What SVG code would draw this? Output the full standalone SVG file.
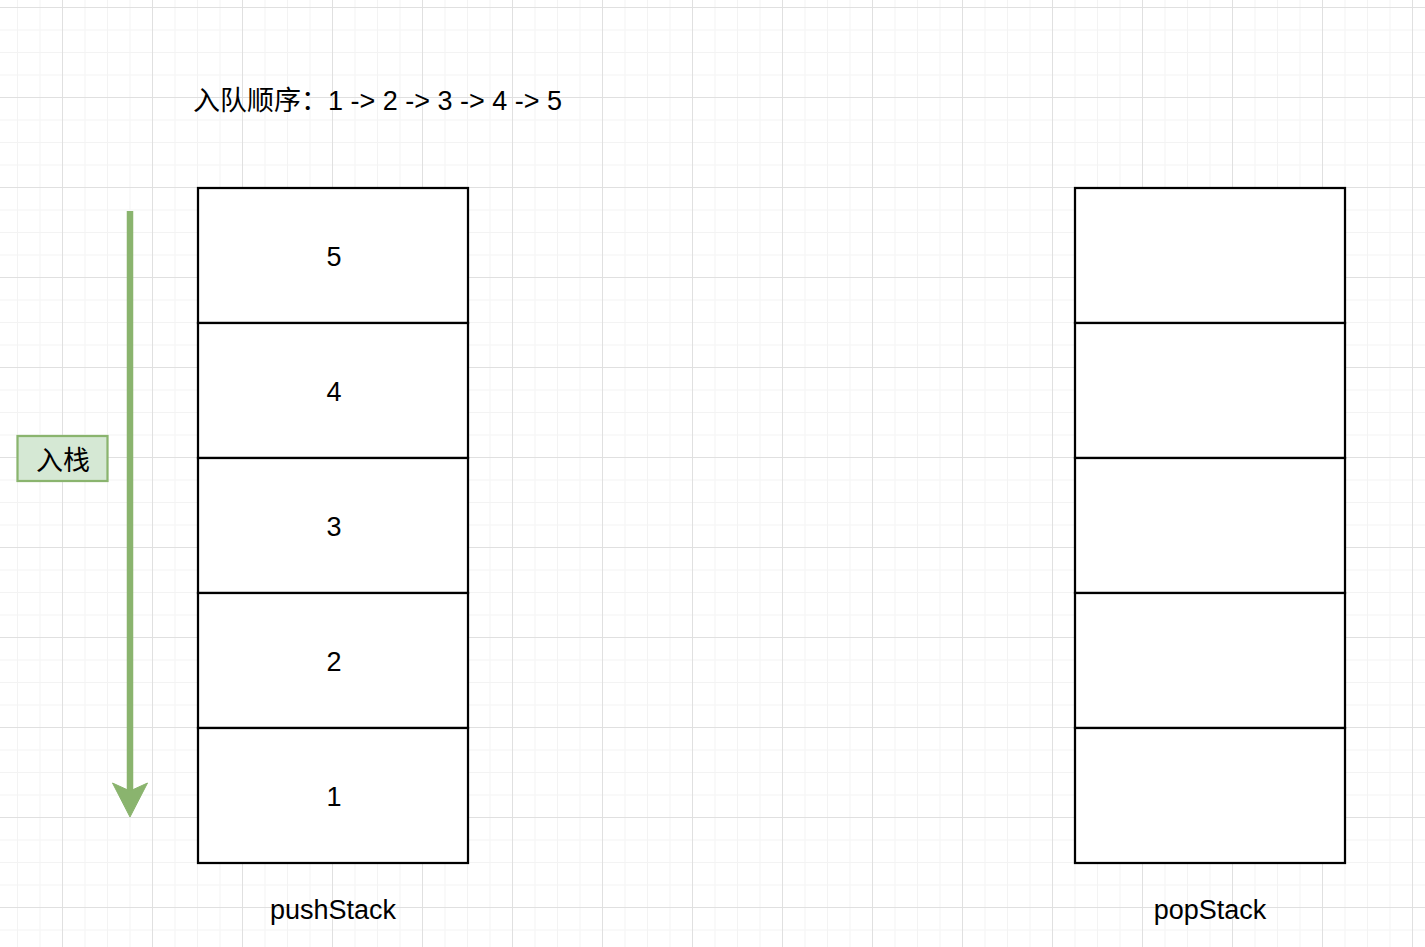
<svg xmlns="http://www.w3.org/2000/svg" width="1425" height="947" viewBox="0 0 1425 947">
  <defs>
    <pattern id="grid" patternUnits="userSpaceOnUse" x="62" y="7" width="90" height="90">
      <g fill="#f3f3f3">
        <rect x="22.5" y="0" width="1" height="90"/>
        <rect x="45" y="0" width="1" height="90"/>
        <rect x="67.5" y="0" width="1" height="90"/>
        <rect x="0" y="22.5" width="90" height="1"/>
        <rect x="0" y="45" width="90" height="1"/>
        <rect x="0" y="67.5" width="90" height="1"/>
      </g>
      <g fill="#e0e0e0">
        <rect x="0" y="0" width="1" height="90"/>
        <rect x="0" y="0" width="90" height="1"/>
      </g>
    </pattern>
    <style>
      .cell { fill: #ffffff; stroke: #000000; stroke-width: 2.25; }
      .txt { font-family: "Liberation Sans", "Noto Sans CJK SC", sans-serif; font-size: 27px; fill: #000000; }
      .mid { text-anchor: middle; }
    </style>
  </defs>
  <rect x="0" y="0" width="1425" height="947" fill="#ffffff"/>
  <rect x="0" y="0" width="1425" height="947" fill="url(#grid)"/>

  <g id="title">
    <text class="txt" x="193" y="110">入队顺序：1 -&gt; 2 -&gt; 3 -&gt; 4 -&gt; 5</text>
  </g>

  <g id="connectors">
    <line x1="130" y1="211" x2="130" y2="792" stroke="#8ab46e" stroke-width="6.5"/>
    <polygon points="112.5,783 130,817 147.5,783 130,791" fill="#8ab46e" stroke="#8ab46e" stroke-width="1"/>
  </g>

  <g id="push-label">
    <rect x="17.5" y="436" width="90" height="45" fill="#d5e8d4" stroke="#8ab46e" stroke-width="2.25"/>
    <text class="txt mid" x="63" y="470">入栈</text>
  </g>

  <g id="pushStack">
    <rect class="cell" x="198" y="188" width="270" height="135"/>
    <rect class="cell" x="198" y="323" width="270" height="135"/>
    <rect class="cell" x="198" y="458" width="270" height="135"/>
    <rect class="cell" x="198" y="593" width="270" height="135"/>
    <rect class="cell" x="198" y="728" width="270" height="135"/>
    <text class="txt mid" x="334" y="266">5</text>
    <text class="txt mid" x="334" y="401">4</text>
    <text class="txt mid" x="334" y="536">3</text>
    <text class="txt mid" x="334" y="671">2</text>
    <text class="txt mid" x="334" y="806">1</text>
    <text class="txt mid" x="333" y="919">pushStack</text>
  </g>

  <g id="popStack">
    <rect class="cell" x="1075" y="188" width="270" height="135"/>
    <rect class="cell" x="1075" y="323" width="270" height="135"/>
    <rect class="cell" x="1075" y="458" width="270" height="135"/>
    <rect class="cell" x="1075" y="593" width="270" height="135"/>
    <rect class="cell" x="1075" y="728" width="270" height="135"/>
    <text class="txt mid" x="1210" y="919">popStack</text>
  </g>
</svg>
